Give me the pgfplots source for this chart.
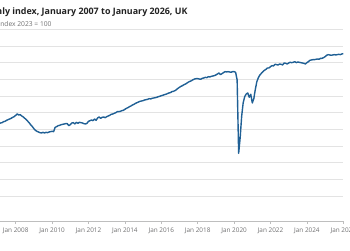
\documentclass[border=0pt]{standalone}
\usepackage{fontspec}
\setmainfont{Open Sans}
\usepackage{pgfplots}
\usepackage{pgfplotstable}
\pgfplotsset{compat=1.18}
\definecolor{onsblue}{HTML}{206095}
\definecolor{gridgrey}{HTML}{E3E3E3}
\definecolor{axisgrey}{HTML}{BEBEBE}
\definecolor{textgrey}{HTML}{707071}
\definecolor{titlegrey}{HTML}{222222}
\pgfplotstableread{
t v
0 81.5
1 81.7
2 81.9
3 82.0
4 82.3
5 82.4
6 82.7
7 82.9
8 83.1
9 83.3
10 83.6
11 83.8
12 84.2
13 84.6
14 84.3
15 84.4
16 84.0
17 83.7
18 83.3
19 82.9
20 82.4
21 81.9
22 81.3
23 80.8
24 80.2
25 79.7
26 79.4
27 79.2
28 79.0
29 78.9
30 79.1
31 78.9
32 79.1
33 79.0
34 79.2
35 79.3
36 79.4
37 79.3
38 80.6
39 80.8
40 81.1
41 81.2
42 81.4
43 81.5
44 81.6
45 81.7
46 81.7
47 81.1
48 81.4
49 81.9
50 82.0
51 81.6
52 82.1
53 81.8
54 82.1
55 82.0
56 81.9
57 81.7
58 81.6
59 81.8
60 82.4
61 82.6
62 82.8
63 82.6
64 83.1
65 82.7
66 83.4
67 83.7
68 83.3
69 83.6
70 83.7
71 83.5
72 83.8
73 84.0
74 84.2
75 84.5
76 84.6
77 84.8
78 85.0
79 85.3
80 85.3
81 85.4
82 85.6
83 85.7
84 86.0
85 86.3
86 86.5
87 86.8
88 87.0
89 87.3
90 87.5
91 87.8
92 88.0
93 88.2
94 88.4
95 88.5
96 88.6
97 88.8
98 88.9
99 89.0
100 89.2
101 89.1
102 89.3
103 89.4
104 89.5
105 89.6
106 89.8
107 89.9
108 90.1
109 90.2
110 90.4
111 90.5
112 90.7
113 90.9
114 91.0
115 91.3
116 91.4
117 91.6
118 91.9
119 92.3
120 92.6
121 92.9
122 93.1
123 93.4
124 93.6
125 93.9
126 94.2
127 94.4
128 94.6
129 94.9
130 95.1
131 95.2
132 95.2
133 95.1
134 95.0
135 95.3
136 95.4
137 95.6
138 95.5
139 95.8
140 95.7
141 95.9
142 96.0
143 96.1
144 96.3
145 96.6
146 96.9
147 96.4
148 96.7
149 97.0
150 97.3
151 97.2
152 97.3
153 97.2
154 97.1
155 97.3
156 97.3
157 97.1
158 94.8
159 72.8
160 77.5
161 84.0
162 88.0
163 89.8
164 90.6
165 90.9
166 89.6
167 90.5
168 87.9
169 89.2
170 92.0
171 94.3
172 95.5
173 96.3
174 96.8
175 97.3
176 97.7
177 98.0
178 98.4
179 98.4
180 98.8
181 99.1
182 99.0
183 99.5
184 99.4
185 99.3
186 99.6
187 99.5
188 99.3
189 99.9
190 99.8
191 99.6
192 99.9
193 100.1
194 100.0
195 100.1
196 100.3
197 100.0
198 100.2
199 100.1
200 100.0
201 99.9
202 99.8
203 99.6
204 100.0
205 100.3
206 100.7
207 100.8
208 100.9
209 100.9
210 101.0
211 101.1
212 101.0
213 101.3
214 101.3
215 101.5
216 101.8
217 102.2
218 102.4
219 102.3
220 102.2
221 102.3
222 102.4
223 102.3
224 102.4
225 102.5
226 102.4
227 102.6
228 102.7
}\gdpdata
\begin{document}
\begin{tikzpicture}
\useasboundingbox (2.5pt,-29pt) rectangle (352.5pt,221pt);
\begin{scope}
\clip (2.5pt,-29pt) rectangle (352.5pt,221pt);
\begin{axis}[
  at={(0pt,0pt)}, anchor=south west,
  scale only axis, width=345.8pt, height=191.7pt,
  xmin=2007, xmax=2026, ymin=52.5, ymax=110,
  axis line style={draw=none},
  ytick={60,65,...,110},
  yticklabels={},
  ymajorgrids, grid style={gridgrey, line width=0.6pt},
  ytick style={draw=none},
  xtick={2008,2010,...,2026},
  xticklabels={Jan 2008,Jan 2010,Jan 2012,Jan 2014,Jan 2016,Jan 2018,Jan 2020,Jan 2022,Jan 2024,Jan 2026},
  xtick pos=bottom, tick align=outside, major tick length=3pt,
  xtick style={axisgrey, line width=0.5pt},
  xticklabel style={font=\fontsize{6.4}{7}\selectfont, text=textgrey},
  clip=false,
]
\draw[axisgrey, line width=0.6pt] (rel axis cs:0,0) -- (rel axis cs:1,0);
\draw[axisgrey, line width=0.5pt] (axis cs:2007,58.5) -- ++(1.5pt,-1.5pt) -- ++(-1.5pt,-1.5pt);
\addplot[onsblue, line width=1.4pt, line join=round] table[x expr=2007+\thisrow{t}/12, y=v] {\gdpdata};
\end{axis}
\node[anchor=base east, inner sep=0pt, font=\bfseries\fontsize{8.9}{11}\selectfont, text=titlegrey] at (190.2pt,206.7pt) {Monthly index, January 2007 to January 2026, UK};
\node[anchor=base east, inner sep=0pt, font=\fontsize{6.7}{7.5}\selectfont, text=textgrey] at (54.2pt,194.5pt) {Index 2023 = 100};
\end{scope}
\end{tikzpicture}
\end{document}
